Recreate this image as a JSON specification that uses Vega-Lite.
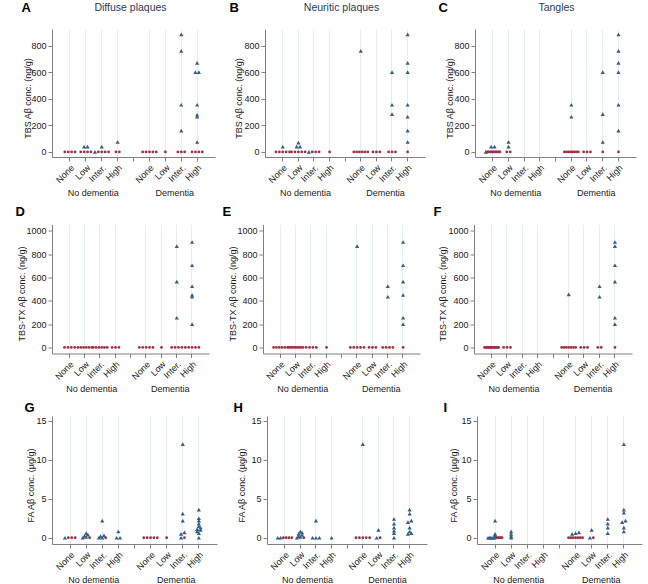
{
"$schema": "https://vega.github.io/schema/vega-lite/v6.json",
"autosize": {"type": "pad"},
"padding": {"left": 15, "top": 1, "right": 5, "bottom": 2},
"background": "white",
"config": {"view": {"stroke": null}, "font": "Liberation Sans",
 "axis": {"domainColor": "#808080", "tickColor": "#808080", "labelColor": "#1a1a1a", "titleColor": "#1a1a1a", "labelFont": "Liberation Sans", "titleFont": "Liberation Sans"}},
"datasets": {
"A": [
{"g":"nd","l":"None","v":0,"k":"c"},{"g":"nd","l":"None","v":0,"k":"c"},{"g":"nd","l":"None","v":0,"k":"c"},{"g":"nd","l":"None","v":0,"k":"c"},
{"g":"nd","l":"Low","v":0,"k":"c"},{"g":"nd","l":"Low","v":0,"k":"c"},{"g":"nd","l":"Low","v":0,"k":"c"},{"g":"nd","l":"Low","v":0,"k":"c"},{"g":"nd","l":"Low","v":40,"k":"t"},{"g":"nd","l":"Low","v":40,"k":"t"},
{"g":"nd","l":"Inter.","v":0,"k":"t"},{"g":"nd","l":"Inter.","v":0,"k":"c"},{"g":"nd","l":"Inter.","v":0,"k":"c"},{"g":"nd","l":"Inter.","v":0,"k":"c"},{"g":"nd","l":"Inter.","v":0,"k":"c"},{"g":"nd","l":"Inter.","v":40,"k":"t"},
{"g":"nd","l":"High","v":0,"k":"c"},{"g":"nd","l":"High","v":0,"k":"c"},{"g":"nd","l":"High","v":75,"k":"t"},
{"g":"d","l":"None","v":0,"k":"c"},{"g":"d","l":"None","v":0,"k":"c"},{"g":"d","l":"None","v":0,"k":"c"},{"g":"d","l":"None","v":0,"k":"c"},{"g":"d","l":"None","v":0,"k":"c"},
{"g":"d","l":"Low","v":0,"k":"c"},
{"g":"d","l":"Inter.","v":0,"k":"c"},{"g":"d","l":"Inter.","v":0,"k":"c"},{"g":"d","l":"Inter.","v":0,"k":"c"},{"g":"d","l":"Inter.","v":160,"k":"t"},{"g":"d","l":"Inter.","v":355,"k":"t"},{"g":"d","l":"Inter.","v":760,"k":"t"},{"g":"d","l":"Inter.","v":885,"k":"t"},
{"g":"d","l":"High","v":0,"k":"c"},{"g":"d","l":"High","v":0,"k":"c"},{"g":"d","l":"High","v":0,"k":"c"},{"g":"d","l":"High","v":0,"k":"c"},{"g":"d","l":"High","v":75,"k":"t"},{"g":"d","l":"High","v":265,"k":"t"},{"g":"d","l":"High","v":280,"k":"t"},{"g":"d","l":"High","v":355,"k":"t"},{"g":"d","l":"High","v":600,"k":"t"},{"g":"d","l":"High","v":600,"k":"t"},{"g":"d","l":"High","v":670,"k":"t"}
],
"B": [
{"g":"nd","l":"None","v":0,"k":"c"},{"g":"nd","l":"None","v":0,"k":"c"},{"g":"nd","l":"None","v":0,"k":"c"},{"g":"nd","l":"None","v":0,"k":"c"},{"g":"nd","l":"None","v":0,"k":"c"},{"g":"nd","l":"None","v":40,"k":"t"},
{"g":"nd","l":"Low","v":0,"k":"c"},{"g":"nd","l":"Low","v":0,"k":"c"},{"g":"nd","l":"Low","v":0,"k":"c"},{"g":"nd","l":"Low","v":0,"k":"c"},{"g":"nd","l":"Low","v":0,"k":"c"},{"g":"nd","l":"Low","v":40,"k":"t"},{"g":"nd","l":"Low","v":40,"k":"t"},{"g":"nd","l":"Low","v":70,"k":"t"},
{"g":"nd","l":"Inter.","v":0,"k":"t"},{"g":"nd","l":"Inter.","v":0,"k":"c"},{"g":"nd","l":"Inter.","v":0,"k":"c"},{"g":"nd","l":"Inter.","v":0,"k":"c"},
{"g":"nd","l":"High","v":0,"k":"c"},
{"g":"d","l":"None","v":0,"k":"c"},{"g":"d","l":"None","v":0,"k":"c"},{"g":"d","l":"None","v":0,"k":"c"},{"g":"d","l":"None","v":0,"k":"c"},{"g":"d","l":"None","v":0,"k":"c"},{"g":"d","l":"None","v":0,"k":"c"},{"g":"d","l":"None","v":760,"k":"t"},
{"g":"d","l":"Low","v":0,"k":"c"},{"g":"d","l":"Low","v":0,"k":"c"},{"g":"d","l":"Low","v":0,"k":"c"},
{"g":"d","l":"Inter.","v":0,"k":"c"},{"g":"d","l":"Inter.","v":0,"k":"c"},{"g":"d","l":"Inter.","v":0,"k":"c"},{"g":"d","l":"Inter.","v":285,"k":"t"},{"g":"d","l":"Inter.","v":355,"k":"t"},{"g":"d","l":"Inter.","v":600,"k":"t"},
{"g":"d","l":"High","v":0,"k":"c"},{"g":"d","l":"High","v":75,"k":"t"},{"g":"d","l":"High","v":160,"k":"t"},{"g":"d","l":"High","v":265,"k":"t"},{"g":"d","l":"High","v":355,"k":"t"},{"g":"d","l":"High","v":600,"k":"t"},{"g":"d","l":"High","v":670,"k":"t"},{"g":"d","l":"High","v":885,"k":"t"}
],
"C": [
{"g":"nd","l":"None","v":0,"k":"t"},{"g":"nd","l":"None","v":0,"k":"c"},{"g":"nd","l":"None","v":0,"k":"c"},{"g":"nd","l":"None","v":0,"k":"c"},{"g":"nd","l":"None","v":0,"k":"c"},{"g":"nd","l":"None","v":0,"k":"c"},{"g":"nd","l":"None","v":0,"k":"c"},{"g":"nd","l":"None","v":0,"k":"c"},{"g":"nd","l":"None","v":0,"k":"c"},{"g":"nd","l":"None","v":0,"k":"c"},{"g":"nd","l":"None","v":0,"k":"c"},{"g":"nd","l":"None","v":0,"k":"c"},{"g":"nd","l":"None","v":0,"k":"c"},{"g":"nd","l":"None","v":40,"k":"t"},{"g":"nd","l":"None","v":40,"k":"t"},
{"g":"nd","l":"Low","v":0,"k":"c"},{"g":"nd","l":"Low","v":0,"k":"c"},{"g":"nd","l":"Low","v":40,"k":"t"},{"g":"nd","l":"Low","v":75,"k":"t"},
{"g":"d","l":"None","v":0,"k":"c"},{"g":"d","l":"None","v":0,"k":"c"},{"g":"d","l":"None","v":0,"k":"c"},{"g":"d","l":"None","v":0,"k":"c"},{"g":"d","l":"None","v":0,"k":"c"},{"g":"d","l":"None","v":0,"k":"c"},{"g":"d","l":"None","v":0,"k":"c"},{"g":"d","l":"None","v":0,"k":"c"},{"g":"d","l":"None","v":265,"k":"t"},{"g":"d","l":"None","v":355,"k":"t"},
{"g":"d","l":"Low","v":0,"k":"c"},{"g":"d","l":"Low","v":0,"k":"c"},{"g":"d","l":"Low","v":0,"k":"c"},
{"g":"d","l":"Inter.","v":0,"k":"c"},{"g":"d","l":"Inter.","v":75,"k":"t"},{"g":"d","l":"Inter.","v":285,"k":"t"},{"g":"d","l":"Inter.","v":600,"k":"t"},
{"g":"d","l":"High","v":0,"k":"c"},{"g":"d","l":"High","v":160,"k":"t"},{"g":"d","l":"High","v":355,"k":"t"},{"g":"d","l":"High","v":600,"k":"t"},{"g":"d","l":"High","v":670,"k":"t"},{"g":"d","l":"High","v":760,"k":"t"},{"g":"d","l":"High","v":885,"k":"t"}
],
"D": [
{"g":"nd","l":"None","v":0,"k":"c"},{"g":"nd","l":"None","v":0,"k":"c"},{"g":"nd","l":"None","v":0,"k":"c"},{"g":"nd","l":"None","v":0,"k":"c"},
{"g":"nd","l":"Low","v":0,"k":"c"},{"g":"nd","l":"Low","v":0,"k":"c"},{"g":"nd","l":"Low","v":0,"k":"c"},{"g":"nd","l":"Low","v":0,"k":"c"},{"g":"nd","l":"Low","v":0,"k":"c"},{"g":"nd","l":"Low","v":0,"k":"c"},
{"g":"nd","l":"Inter.","v":0,"k":"c"},{"g":"nd","l":"Inter.","v":0,"k":"c"},{"g":"nd","l":"Inter.","v":0,"k":"c"},{"g":"nd","l":"Inter.","v":0,"k":"c"},{"g":"nd","l":"Inter.","v":0,"k":"c"},{"g":"nd","l":"Inter.","v":0,"k":"c"},
{"g":"nd","l":"High","v":0,"k":"c"},{"g":"nd","l":"High","v":0,"k":"c"},{"g":"nd","l":"High","v":0,"k":"c"},
{"g":"d","l":"None","v":0,"k":"c"},{"g":"d","l":"None","v":0,"k":"c"},{"g":"d","l":"None","v":0,"k":"c"},{"g":"d","l":"None","v":0,"k":"c"},{"g":"d","l":"None","v":0,"k":"c"},
{"g":"d","l":"Low","v":0,"k":"c"},
{"g":"d","l":"Inter.","v":0,"k":"c"},{"g":"d","l":"Inter.","v":0,"k":"c"},{"g":"d","l":"Inter.","v":0,"k":"c"},{"g":"d","l":"Inter.","v":0,"k":"c"},{"g":"d","l":"Inter.","v":255,"k":"t"},{"g":"d","l":"Inter.","v":565,"k":"t"},{"g":"d","l":"Inter.","v":870,"k":"t"},
{"g":"d","l":"High","v":0,"k":"c"},{"g":"d","l":"High","v":0,"k":"c"},{"g":"d","l":"High","v":0,"k":"c"},{"g":"d","l":"High","v":0,"k":"c"},{"g":"d","l":"High","v":0,"k":"c"},{"g":"d","l":"High","v":200,"k":"t"},{"g":"d","l":"High","v":435,"k":"t"},{"g":"d","l":"High","v":450,"k":"t"},{"g":"d","l":"High","v":525,"k":"t"},{"g":"d","l":"High","v":705,"k":"t"},{"g":"d","l":"High","v":905,"k":"t"}
],
"E": [
{"g":"nd","l":"None","v":0,"k":"c"},{"g":"nd","l":"None","v":0,"k":"c"},{"g":"nd","l":"None","v":0,"k":"c"},{"g":"nd","l":"None","v":0,"k":"c"},{"g":"nd","l":"None","v":0,"k":"c"},{"g":"nd","l":"None","v":0,"k":"c"},
{"g":"nd","l":"Low","v":0,"k":"c"},{"g":"nd","l":"Low","v":0,"k":"c"},{"g":"nd","l":"Low","v":0,"k":"c"},{"g":"nd","l":"Low","v":0,"k":"c"},{"g":"nd","l":"Low","v":0,"k":"c"},{"g":"nd","l":"Low","v":0,"k":"c"},{"g":"nd","l":"Low","v":0,"k":"c"},{"g":"nd","l":"Low","v":0,"k":"c"},
{"g":"nd","l":"Inter.","v":0,"k":"c"},{"g":"nd","l":"Inter.","v":0,"k":"c"},{"g":"nd","l":"Inter.","v":0,"k":"c"},{"g":"nd","l":"Inter.","v":0,"k":"c"},
{"g":"nd","l":"High","v":0,"k":"c"},
{"g":"d","l":"None","v":0,"k":"c"},{"g":"d","l":"None","v":0,"k":"c"},{"g":"d","l":"None","v":0,"k":"c"},{"g":"d","l":"None","v":0,"k":"c"},{"g":"d","l":"None","v":0,"k":"c"},{"g":"d","l":"None","v":870,"k":"t"},
{"g":"d","l":"Low","v":0,"k":"c"},{"g":"d","l":"Low","v":0,"k":"c"},{"g":"d","l":"Low","v":0,"k":"c"},
{"g":"d","l":"Inter.","v":0,"k":"c"},{"g":"d","l":"Inter.","v":0,"k":"c"},{"g":"d","l":"Inter.","v":0,"k":"c"},{"g":"d","l":"Inter.","v":0,"k":"c"},{"g":"d","l":"Inter.","v":435,"k":"t"},{"g":"d","l":"Inter.","v":525,"k":"t"},
{"g":"d","l":"High","v":0,"k":"c"},{"g":"d","l":"High","v":200,"k":"t"},{"g":"d","l":"High","v":255,"k":"t"},{"g":"d","l":"High","v":450,"k":"t"},{"g":"d","l":"High","v":565,"k":"t"},{"g":"d","l":"High","v":705,"k":"t"},{"g":"d","l":"High","v":905,"k":"t"}
],
"F": [
{"g":"nd","l":"None","v":0,"k":"c"},{"g":"nd","l":"None","v":0,"k":"c"},{"g":"nd","l":"None","v":0,"k":"c"},{"g":"nd","l":"None","v":0,"k":"c"},{"g":"nd","l":"None","v":0,"k":"c"},{"g":"nd","l":"None","v":0,"k":"c"},{"g":"nd","l":"None","v":0,"k":"c"},{"g":"nd","l":"None","v":0,"k":"c"},{"g":"nd","l":"None","v":0,"k":"c"},{"g":"nd","l":"None","v":0,"k":"c"},{"g":"nd","l":"None","v":0,"k":"c"},{"g":"nd","l":"None","v":0,"k":"c"},{"g":"nd","l":"None","v":0,"k":"c"},{"g":"nd","l":"None","v":0,"k":"c"},{"g":"nd","l":"None","v":0,"k":"c"},
{"g":"nd","l":"Low","v":0,"k":"c"},{"g":"nd","l":"Low","v":0,"k":"c"},{"g":"nd","l":"Low","v":0,"k":"c"},
{"g":"d","l":"None","v":0,"k":"c"},{"g":"d","l":"None","v":0,"k":"c"},{"g":"d","l":"None","v":0,"k":"c"},{"g":"d","l":"None","v":0,"k":"c"},{"g":"d","l":"None","v":0,"k":"c"},{"g":"d","l":"None","v":0,"k":"c"},{"g":"d","l":"None","v":0,"k":"c"},{"g":"d","l":"None","v":455,"k":"t"},
{"g":"d","l":"Low","v":0,"k":"c"},{"g":"d","l":"Low","v":0,"k":"c"},{"g":"d","l":"Low","v":0,"k":"c"},
{"g":"d","l":"Inter.","v":0,"k":"c"},{"g":"d","l":"Inter.","v":0,"k":"c"},{"g":"d","l":"Inter.","v":435,"k":"t"},{"g":"d","l":"Inter.","v":525,"k":"t"},
{"g":"d","l":"High","v":0,"k":"c"},{"g":"d","l":"High","v":200,"k":"t"},{"g":"d","l":"High","v":255,"k":"t"},{"g":"d","l":"High","v":565,"k":"t"},{"g":"d","l":"High","v":705,"k":"t"},{"g":"d","l":"High","v":870,"k":"t"},{"g":"d","l":"High","v":905,"k":"t"}
],
"G": [
{"g":"nd","l":"None","v":0,"k":"t"},{"g":"nd","l":"None","v":0,"k":"c"},{"g":"nd","l":"None","v":0,"k":"c"},{"g":"nd","l":"None","v":0,"k":"c"},
{"g":"nd","l":"Low","v":0,"k":"t"},{"g":"nd","l":"Low","v":0.1,"k":"t"},{"g":"nd","l":"Low","v":0.25,"k":"t"},{"g":"nd","l":"Low","v":0.4,"k":"t"},{"g":"nd","l":"Low","v":0.6,"k":"t"},{"g":"nd","l":"Low","v":0,"k":"c"},
{"g":"nd","l":"Inter.","v":0,"k":"t"},{"g":"nd","l":"Inter.","v":0,"k":"t"},{"g":"nd","l":"Inter.","v":0.2,"k":"t"},{"g":"nd","l":"Inter.","v":0.3,"k":"t"},{"g":"nd","l":"Inter.","v":2.2,"k":"t"},{"g":"nd","l":"Inter.","v":0,"k":"c"},
{"g":"nd","l":"High","v":0,"k":"t"},{"g":"nd","l":"High","v":0,"k":"t"},{"g":"nd","l":"High","v":0.8,"k":"t"},
{"g":"d","l":"None","v":0,"k":"c"},{"g":"d","l":"None","v":0,"k":"c"},{"g":"d","l":"None","v":0,"k":"c"},{"g":"d","l":"None","v":0,"k":"c"},{"g":"d","l":"None","v":0,"k":"c"},
{"g":"d","l":"Low","v":0,"k":"c"},
{"g":"d","l":"Inter.","v":12,"k":"t"},{"g":"d","l":"Inter.","v":3.1,"k":"t"},{"g":"d","l":"Inter.","v":2.2,"k":"t"},{"g":"d","l":"Inter.","v":0.7,"k":"t"},{"g":"d","l":"Inter.","v":0.5,"k":"t"},{"g":"d","l":"Inter.","v":0,"k":"t"},{"g":"d","l":"Inter.","v":0,"k":"c"},
{"g":"d","l":"High","v":3.6,"k":"t"},{"g":"d","l":"High","v":2.5,"k":"t"},{"g":"d","l":"High","v":2.2,"k":"t"},{"g":"d","l":"High","v":1.8,"k":"t"},{"g":"d","l":"High","v":1.5,"k":"t"},{"g":"d","l":"High","v":1.3,"k":"t"},{"g":"d","l":"High","v":1.1,"k":"t"},{"g":"d","l":"High","v":1.0,"k":"t"},{"g":"d","l":"High","v":0.8,"k":"t"},{"g":"d","l":"High","v":0.6,"k":"t"},{"g":"d","l":"High","v":0,"k":"t"}
],
"H": [
{"g":"nd","l":"None","v":0,"k":"t"},{"g":"nd","l":"None","v":0,"k":"t"},{"g":"nd","l":"None","v":0,"k":"c"},{"g":"nd","l":"None","v":0,"k":"c"},{"g":"nd","l":"None","v":0,"k":"c"},{"g":"nd","l":"None","v":0,"k":"c"},
{"g":"nd","l":"Low","v":0,"k":"t"},{"g":"nd","l":"Low","v":0.1,"k":"t"},{"g":"nd","l":"Low","v":0.2,"k":"t"},{"g":"nd","l":"Low","v":0.35,"k":"t"},{"g":"nd","l":"Low","v":0.5,"k":"t"},{"g":"nd","l":"Low","v":0.65,"k":"t"},{"g":"nd","l":"Low","v":0.8,"k":"t"},{"g":"nd","l":"Low","v":0,"k":"c"},
{"g":"nd","l":"Inter.","v":0,"k":"t"},{"g":"nd","l":"Inter.","v":0,"k":"t"},{"g":"nd","l":"Inter.","v":0,"k":"t"},{"g":"nd","l":"Inter.","v":2.2,"k":"t"},
{"g":"nd","l":"High","v":0,"k":"t"},
{"g":"d","l":"None","v":0,"k":"c"},{"g":"d","l":"None","v":0,"k":"c"},{"g":"d","l":"None","v":0,"k":"c"},{"g":"d","l":"None","v":0,"k":"c"},{"g":"d","l":"None","v":0,"k":"c"},{"g":"d","l":"None","v":12,"k":"t"},
{"g":"d","l":"Low","v":1.0,"k":"t"},{"g":"d","l":"Low","v":0,"k":"t"},{"g":"d","l":"Low","v":0,"k":"c"},
{"g":"d","l":"Inter.","v":2.4,"k":"t"},{"g":"d","l":"Inter.","v":1.8,"k":"t"},{"g":"d","l":"Inter.","v":1.3,"k":"t"},{"g":"d","l":"Inter.","v":0.9,"k":"t"},{"g":"d","l":"Inter.","v":0.6,"k":"t"},{"g":"d","l":"Inter.","v":0,"k":"t"},
{"g":"d","l":"High","v":3.6,"k":"t"},{"g":"d","l":"High","v":3.1,"k":"t"},{"g":"d","l":"High","v":2.2,"k":"t"},{"g":"d","l":"High","v":2.0,"k":"t"},{"g":"d","l":"High","v":1.3,"k":"t"},{"g":"d","l":"High","v":0.8,"k":"t"},{"g":"d","l":"High","v":0.6,"k":"t"},{"g":"d","l":"High","v":0.5,"k":"t"}
],
"I": [
{"g":"nd","l":"None","v":0,"k":"t"},{"g":"nd","l":"None","v":0,"k":"t"},{"g":"nd","l":"None","v":0,"k":"t"},{"g":"nd","l":"None","v":0,"k":"t"},{"g":"nd","l":"None","v":0,"k":"t"},{"g":"nd","l":"None","v":0,"k":"t"},{"g":"nd","l":"None","v":0.1,"k":"t"},{"g":"nd","l":"None","v":0.3,"k":"t"},{"g":"nd","l":"None","v":0.5,"k":"t"},{"g":"nd","l":"None","v":2.2,"k":"t"},{"g":"nd","l":"None","v":0,"k":"c"},{"g":"nd","l":"None","v":0,"k":"c"},{"g":"nd","l":"None","v":0,"k":"c"},{"g":"nd","l":"None","v":0,"k":"c"},{"g":"nd","l":"None","v":0,"k":"c"},
{"g":"nd","l":"Low","v":0.8,"k":"t"},{"g":"nd","l":"Low","v":0.5,"k":"t"},{"g":"nd","l":"Low","v":0.2,"k":"t"},{"g":"nd","l":"Low","v":0,"k":"t"},
{"g":"d","l":"None","v":0.7,"k":"t"},{"g":"d","l":"None","v":0.6,"k":"t"},{"g":"d","l":"None","v":0.5,"k":"t"},{"g":"d","l":"None","v":0,"k":"c"},{"g":"d","l":"None","v":0,"k":"c"},{"g":"d","l":"None","v":0,"k":"c"},{"g":"d","l":"None","v":0,"k":"c"},{"g":"d","l":"None","v":0,"k":"c"},{"g":"d","l":"None","v":0,"k":"c"},{"g":"d","l":"None","v":0,"k":"c"},
{"g":"d","l":"Low","v":1.0,"k":"t"},{"g":"d","l":"Low","v":0,"k":"t"},{"g":"d","l":"Low","v":0,"k":"c"},
{"g":"d","l":"Inter.","v":2.4,"k":"t"},{"g":"d","l":"Inter.","v":1.8,"k":"t"},{"g":"d","l":"Inter.","v":1.3,"k":"t"},{"g":"d","l":"Inter.","v":0.6,"k":"t"},
{"g":"d","l":"High","v":12,"k":"t"},{"g":"d","l":"High","v":3.6,"k":"t"},{"g":"d","l":"High","v":3.2,"k":"t"},{"g":"d","l":"High","v":2.2,"k":"t"},{"g":"d","l":"High","v":2.0,"k":"t"},{"g":"d","l":"High","v":1.3,"k":"t"},{"g":"d","l":"High","v":0.8,"k":"t"}
]
},
"bounds": "full",
"spacing": 7.5,
"vconcat": [
{"bounds": "flush", "spacing": 50, "hconcat": [
{"width": 163, "height": 128, "data": {"name": "A"},
 "transform": [{"calculate": "datum.g + '_' + datum.l", "as": "slot"}, {"calculate": "round(datum.v / 20)", "as": "vb"},
  {"window": [{"op": "row_number", "as": "rk"}, {"op": "count", "as": "n"}], "groupby": ["slot", "vb"], "sort": [{"field": "k", "order": "descending"}, {"field": "v", "order": "ascending"}], "frame": [null, null]},
  {"calculate": "(datum.rk - (datum.n + 1) / 2) * min(3.4, 14 / max(datum.n - 1, 1))", "as": "off"}],
 "layer": [
  {"mark": {"type": "point", "filled": true, "opacity": 1},
   "encoding": {
    "x": {"field": "slot", "type": "nominal", "scale": {"type": "band", "domain": ["nd_None","nd_Low","nd_Inter.","nd_High","gap","d_None","d_Low","d_Inter.","d_High"], "paddingInner": 0, "paddingOuter": 0.625},
     "axis": {"labelExpr": "datum.value == 'gap' ? '' : split(datum.value, '_')[1]", "labelAngle": -45, "labelFontSize": 9, "labelPadding": 2, "grid": true, "gridColor": {"condition": {"test": "datum.value == 'gap'", "value": "transparent"}, "value": "#e5ecf2"}, "bandPosition": 0.5, "tickSize": 4,
      "title": "Diffuse plaques", "titleX": 78, "titleY": -149.5, "titleFontSize": 10.5, "titleFontWeight": "normal", "titleColor": "#1f3b5b", "titleAlign": "center", "titleBaseline": "middle", "titleAngle": 0}},
    "xOffset": {"field": "off", "type": "quantitative", "scale": {"domain": [-8, 8], "range": [0, 16]}},
    "y": {"field": "v", "type": "quantitative", "scale": {"domain": [-38, 925], "nice": false, "zero": false},
     "axis": {"values": [0, 200, 400, 600, 800], "format": "d", "title": "TBS  Aβ  conc. (ng/g)", "titleX": -24.5, "titleY": 69, "titleAngle": -90, "titleAlign": "center", "titleBaseline": "middle", "titleFontSize": 9, "titleFontWeight": "normal", "labelFontSize": 9, "tickSize": 4, "labelPadding": 2, "grid": false}},
    "shape": {"field": "k", "type": "nominal", "scale": {"domain": ["t", "c"], "range": ["triangle-up", "circle"]}, "legend": null},
    "color": {"field": "k", "type": "nominal", "scale": {"domain": ["t", "c"], "range": ["#345f86", "#9c3446"]}, "legend": null},
    "size": {"field": "k", "type": "ordinal", "scale": {"domain": ["t", "c"], "range": [18, 8]}, "legend": null}}},
  {"mark": {"type": "point", "opacity": 0},
   "encoding": {"x": {"field": "g", "type": "nominal", "scale": {"type": "point", "domain": ["nd", "d"], "padding": 0.5},
    "axis": {"orient": "bottom", "labelExpr": "datum.value == 'nd' ? 'No dementia' : 'Dementia'", "labelAngle": 0, "labelBaseline": "middle", "labelPadding": 35, "labelFontSize": 9, "domain": false, "ticks": false, "grid": false,
     "title": "A", "titleX": -31, "titleY": -149.5, "titleAlign": "left", "titleBaseline": "middle", "titleFontSize": 13, "titleFontWeight": "bold", "titleColor": "#000000", "titleAngle": 0}}}}
 ],
 "resolve": {"scale": {"x": "independent"}, "axis": {"x": "independent"}}},
{"width": 160, "height": 128, "data": {"name": "B"},
 "transform": [{"calculate": "datum.g + '_' + datum.l", "as": "slot"}, {"calculate": "round(datum.v / 20)", "as": "vb"},
  {"window": [{"op": "row_number", "as": "rk"}, {"op": "count", "as": "n"}], "groupby": ["slot", "vb"], "sort": [{"field": "k", "order": "descending"}, {"field": "v", "order": "ascending"}], "frame": [null, null]},
  {"calculate": "(datum.rk - (datum.n + 1) / 2) * min(3.4, 14 / max(datum.n - 1, 1))", "as": "off"}],
 "layer": [
  {"mark": {"type": "point", "filled": true, "opacity": 1},
   "encoding": {
    "x": {"field": "slot", "type": "nominal", "scale": {"type": "band", "domain": ["nd_None","nd_Low","nd_Inter.","nd_High","gap","d_None","d_Low","d_Inter.","d_High"], "paddingInner": 0, "paddingOuter": 0.625},
     "axis": {"labelExpr": "datum.value == 'gap' ? '' : split(datum.value, '_')[1]", "labelAngle": -45, "labelFontSize": 9, "labelPadding": 2, "grid": true, "gridColor": {"condition": {"test": "datum.value == 'gap'", "value": "transparent"}, "value": "#e5ecf2"}, "bandPosition": 0.5, "tickSize": 4,
      "title": "Neuritic plaques", "titleX": 76, "titleY": -149.5, "titleFontSize": 10.5, "titleFontWeight": "normal", "titleColor": "#1f3b5b", "titleAlign": "center", "titleBaseline": "middle", "titleAngle": 0}},
    "xOffset": {"field": "off", "type": "quantitative", "scale": {"domain": [-8, 8], "range": [0, 16]}},
    "y": {"field": "v", "type": "quantitative", "scale": {"domain": [-38, 925], "nice": false, "zero": false},
     "axis": {"values": [0, 200, 400, 600, 800], "format": "d", "title": "TBS  Aβ  conc. (ng/g)", "titleX": -27, "titleY": 69, "titleAngle": -90, "titleAlign": "center", "titleBaseline": "middle", "titleFontSize": 9, "titleFontWeight": "normal", "labelFontSize": 9, "tickSize": 4, "labelPadding": 2, "grid": false}},
    "shape": {"field": "k", "type": "nominal", "scale": {"domain": ["t", "c"], "range": ["triangle-up", "circle"]}, "legend": null},
    "color": {"field": "k", "type": "nominal", "scale": {"domain": ["t", "c"], "range": ["#345f86", "#9c3446"]}, "legend": null},
    "size": {"field": "k", "type": "ordinal", "scale": {"domain": ["t", "c"], "range": [18, 8]}, "legend": null}}},
  {"mark": {"type": "point", "opacity": 0},
   "encoding": {"x": {"field": "g", "type": "nominal", "scale": {"type": "point", "domain": ["nd", "d"], "padding": 0.5},
    "axis": {"orient": "bottom", "labelExpr": "datum.value == 'nd' ? 'No dementia' : 'Dementia'", "labelAngle": 0, "labelBaseline": "middle", "labelPadding": 35, "labelFontSize": 9, "domain": false, "ticks": false, "grid": false,
     "title": "B", "titleX": -36, "titleY": -149.5, "titleAlign": "left", "titleBaseline": "middle", "titleFontSize": 13, "titleFontWeight": "bold", "titleColor": "#000000", "titleAngle": 0}}}}
 ],
 "resolve": {"scale": {"x": "independent"}, "axis": {"x": "independent"}}},
{"width": 161, "height": 128, "data": {"name": "C"},
 "transform": [{"calculate": "datum.g + '_' + datum.l", "as": "slot"}, {"calculate": "round(datum.v / 20)", "as": "vb"},
  {"window": [{"op": "row_number", "as": "rk"}, {"op": "count", "as": "n"}], "groupby": ["slot", "vb"], "sort": [{"field": "k", "order": "descending"}, {"field": "v", "order": "ascending"}], "frame": [null, null]},
  {"calculate": "(datum.rk - (datum.n + 1) / 2) * min(3.4, 14 / max(datum.n - 1, 1))", "as": "off"}],
 "layer": [
  {"mark": {"type": "point", "filled": true, "opacity": 1},
   "encoding": {
    "x": {"field": "slot", "type": "nominal", "scale": {"type": "band", "domain": ["nd_None","nd_Low","nd_Inter.","nd_High","gap","d_None","d_Low","d_Inter.","d_High"], "paddingInner": 0, "paddingOuter": 0.625},
     "axis": {"labelExpr": "datum.value == 'gap' ? '' : split(datum.value, '_')[1]", "labelAngle": -45, "labelFontSize": 9, "labelPadding": 2, "grid": true, "gridColor": {"condition": {"test": "datum.value == 'gap'", "value": "transparent"}, "value": "#e5ecf2"}, "bandPosition": 0.5, "tickSize": 4,
      "title": "Tangles", "titleX": 81, "titleY": -149.5, "titleFontSize": 10.5, "titleFontWeight": "normal", "titleColor": "#1f3b5b", "titleAlign": "center", "titleBaseline": "middle", "titleAngle": 0}},
    "xOffset": {"field": "off", "type": "quantitative", "scale": {"domain": [-8, 8], "range": [0, 16]}},
    "y": {"field": "v", "type": "quantitative", "scale": {"domain": [-38, 925], "nice": false, "zero": false},
     "axis": {"values": [0, 200, 400, 600, 800], "format": "d", "title": "TBS  Aβ  conc. (ng/g)", "titleX": -26, "titleY": 69, "titleAngle": -90, "titleAlign": "center", "titleBaseline": "middle", "titleFontSize": 9, "titleFontWeight": "normal", "labelFontSize": 9, "tickSize": 4, "labelPadding": 2, "grid": false}},
    "shape": {"field": "k", "type": "nominal", "scale": {"domain": ["t", "c"], "range": ["triangle-up", "circle"]}, "legend": null},
    "color": {"field": "k", "type": "nominal", "scale": {"domain": ["t", "c"], "range": ["#345f86", "#9c3446"]}, "legend": null},
    "size": {"field": "k", "type": "ordinal", "scale": {"domain": ["t", "c"], "range": [18, 8]}, "legend": null}}},
  {"mark": {"type": "point", "opacity": 0},
   "encoding": {"x": {"field": "g", "type": "nominal", "scale": {"type": "point", "domain": ["nd", "d"], "padding": 0.5},
    "axis": {"orient": "bottom", "labelExpr": "datum.value == 'nd' ? 'No dementia' : 'Dementia'", "labelAngle": 0, "labelBaseline": "middle", "labelPadding": 35, "labelFontSize": 9, "domain": false, "ticks": false, "grid": false,
     "title": "C", "titleX": -37, "titleY": -149.5, "titleAlign": "left", "titleBaseline": "middle", "titleFontSize": 13, "titleFontWeight": "bold", "titleColor": "#000000", "titleAngle": 0}}}}
 ],
 "resolve": {"scale": {"x": "independent"}, "axis": {"x": "independent"}}}
]},
{"bounds": "flush", "spacing": 54, "hconcat": [
{"width": 157, "height": 129, "data": {"name": "D"},
 "transform": [{"calculate": "datum.g + '_' + datum.l", "as": "slot"}, {"calculate": "round(datum.v / 20)", "as": "vb"},
  {"window": [{"op": "row_number", "as": "rk"}, {"op": "count", "as": "n"}], "groupby": ["slot", "vb"], "sort": [{"field": "k", "order": "descending"}, {"field": "v", "order": "ascending"}], "frame": [null, null]},
  {"calculate": "(datum.rk - (datum.n + 1) / 2) * min(3.4, 14 / max(datum.n - 1, 1))", "as": "off"}],
 "layer": [
  {"mark": {"type": "point", "filled": true, "opacity": 1},
   "encoding": {
    "x": {"field": "slot", "type": "nominal", "scale": {"type": "band", "domain": ["nd_None","nd_Low","nd_Inter.","nd_High","gap","d_None","d_Low","d_Inter.","d_High"], "paddingInner": 0, "paddingOuter": 0.625},
     "axis": {"labelExpr": "datum.value == 'gap' ? '' : split(datum.value, '_')[1]", "labelAngle": -45, "labelFontSize": 9, "labelPadding": 2, "grid": true, "gridColor": {"condition": {"test": "datum.value == 'gap'", "value": "transparent"}, "value": "#e5ecf2"}, "bandPosition": 0.5, "tickSize": 4, "title": null}},
    "xOffset": {"field": "off", "type": "quantitative", "scale": {"domain": [-8, 8], "range": [0, 16]}},
    "y": {"field": "v", "type": "quantitative", "scale": {"domain": [-52, 1055], "nice": false, "zero": false},
     "axis": {"values": [0, 200, 400, 600, 800, 1000], "format": "d", "title": "TBS-TX  Aβ  conc. (ng/g)", "titleX": -30.5, "titleY": 69, "titleAngle": -90, "titleAlign": "center", "titleBaseline": "middle", "titleFontSize": 9, "titleFontWeight": "normal", "labelFontSize": 9, "tickSize": 4, "labelPadding": 2, "grid": false}},
    "shape": {"field": "k", "type": "nominal", "scale": {"domain": ["t", "c"], "range": ["triangle-up", "circle"]}, "legend": null},
    "color": {"field": "k", "type": "nominal", "scale": {"domain": ["t", "c"], "range": ["#345f86", "#9c3446"]}, "legend": null},
    "size": {"field": "k", "type": "ordinal", "scale": {"domain": ["t", "c"], "range": [18, 8]}, "legend": null}}},
  {"mark": {"type": "point", "opacity": 0},
   "encoding": {"x": {"field": "g", "type": "nominal", "scale": {"type": "point", "domain": ["nd", "d"], "padding": 0.5},
    "axis": {"orient": "bottom", "labelExpr": "datum.value == 'nd' ? 'No dementia' : 'Dementia'", "labelAngle": 0, "labelBaseline": "middle", "labelPadding": 35, "labelFontSize": 9, "domain": false, "ticks": false, "grid": false,
     "title": "D", "titleX": -37, "titleY": -142.5, "titleAlign": "left", "titleBaseline": "middle", "titleFontSize": 13, "titleFontWeight": "bold", "titleColor": "#000000", "titleAngle": 0}}}}
 ],
 "resolve": {"scale": {"x": "independent"}, "axis": {"x": "independent"}}},
{"width": 157, "height": 129, "data": {"name": "E"},
 "transform": [{"calculate": "datum.g + '_' + datum.l", "as": "slot"}, {"calculate": "round(datum.v / 20)", "as": "vb"},
  {"window": [{"op": "row_number", "as": "rk"}, {"op": "count", "as": "n"}], "groupby": ["slot", "vb"], "sort": [{"field": "k", "order": "descending"}, {"field": "v", "order": "ascending"}], "frame": [null, null]},
  {"calculate": "(datum.rk - (datum.n + 1) / 2) * min(3.4, 14 / max(datum.n - 1, 1))", "as": "off"}],
 "layer": [
  {"mark": {"type": "point", "filled": true, "opacity": 1},
   "encoding": {
    "x": {"field": "slot", "type": "nominal", "scale": {"type": "band", "domain": ["nd_None","nd_Low","nd_Inter.","nd_High","gap","d_None","d_Low","d_Inter.","d_High"], "paddingInner": 0, "paddingOuter": 0.625},
     "axis": {"labelExpr": "datum.value == 'gap' ? '' : split(datum.value, '_')[1]", "labelAngle": -45, "labelFontSize": 9, "labelPadding": 2, "grid": true, "gridColor": {"condition": {"test": "datum.value == 'gap'", "value": "transparent"}, "value": "#e5ecf2"}, "bandPosition": 0.5, "tickSize": 4, "title": null}},
    "xOffset": {"field": "off", "type": "quantitative", "scale": {"domain": [-8, 8], "range": [0, 16]}},
    "y": {"field": "v", "type": "quantitative", "scale": {"domain": [-52, 1055], "nice": false, "zero": false},
     "axis": {"values": [0, 200, 400, 600, 800, 1000], "format": "d", "title": "TBS-TX  Aβ  conc. (ng/g)", "titleX": -31, "titleY": 69, "titleAngle": -90, "titleAlign": "center", "titleBaseline": "middle", "titleFontSize": 9, "titleFontWeight": "normal", "labelFontSize": 9, "tickSize": 4, "labelPadding": 2, "grid": false}},
    "shape": {"field": "k", "type": "nominal", "scale": {"domain": ["t", "c"], "range": ["triangle-up", "circle"]}, "legend": null},
    "color": {"field": "k", "type": "nominal", "scale": {"domain": ["t", "c"], "range": ["#345f86", "#9c3446"]}, "legend": null},
    "size": {"field": "k", "type": "ordinal", "scale": {"domain": ["t", "c"], "range": [18, 8]}, "legend": null}}},
  {"mark": {"type": "point", "opacity": 0},
   "encoding": {"x": {"field": "g", "type": "nominal", "scale": {"type": "point", "domain": ["nd", "d"], "padding": 0.5},
    "axis": {"orient": "bottom", "labelExpr": "datum.value == 'nd' ? 'No dementia' : 'Dementia'", "labelAngle": 0, "labelBaseline": "middle", "labelPadding": 35, "labelFontSize": 9, "domain": false, "ticks": false, "grid": false,
     "title": "E", "titleX": -41, "titleY": -142.5, "titleAlign": "left", "titleBaseline": "middle", "titleFontSize": 13, "titleFontWeight": "bold", "titleColor": "#000000", "titleAngle": 0}}}}
 ],
 "resolve": {"scale": {"x": "independent"}, "axis": {"x": "independent"}}},
{"width": 158, "height": 129, "data": {"name": "F"},
 "transform": [{"calculate": "datum.g + '_' + datum.l", "as": "slot"}, {"calculate": "round(datum.v / 20)", "as": "vb"},
  {"window": [{"op": "row_number", "as": "rk"}, {"op": "count", "as": "n"}], "groupby": ["slot", "vb"], "sort": [{"field": "k", "order": "descending"}, {"field": "v", "order": "ascending"}], "frame": [null, null]},
  {"calculate": "(datum.rk - (datum.n + 1) / 2) * min(3.4, 14 / max(datum.n - 1, 1))", "as": "off"}],
 "layer": [
  {"mark": {"type": "point", "filled": true, "opacity": 1},
   "encoding": {
    "x": {"field": "slot", "type": "nominal", "scale": {"type": "band", "domain": ["nd_None","nd_Low","nd_Inter.","nd_High","gap","d_None","d_Low","d_Inter.","d_High"], "paddingInner": 0, "paddingOuter": 0.625},
     "axis": {"labelExpr": "datum.value == 'gap' ? '' : split(datum.value, '_')[1]", "labelAngle": -45, "labelFontSize": 9, "labelPadding": 2, "grid": true, "gridColor": {"condition": {"test": "datum.value == 'gap'", "value": "transparent"}, "value": "#e5ecf2"}, "bandPosition": 0.5, "tickSize": 4, "title": null}},
    "xOffset": {"field": "off", "type": "quantitative", "scale": {"domain": [-8, 8], "range": [0, 16]}},
    "y": {"field": "v", "type": "quantitative", "scale": {"domain": [-52, 1055], "nice": false, "zero": false},
     "axis": {"values": [0, 200, 400, 600, 800, 1000], "format": "d", "title": "TBS-TX  Aβ  conc. (ng/g)", "titleX": -32, "titleY": 69, "titleAngle": -90, "titleAlign": "center", "titleBaseline": "middle", "titleFontSize": 9, "titleFontWeight": "normal", "labelFontSize": 9, "tickSize": 4, "labelPadding": 2, "grid": false}},
    "shape": {"field": "k", "type": "nominal", "scale": {"domain": ["t", "c"], "range": ["triangle-up", "circle"]}, "legend": null},
    "color": {"field": "k", "type": "nominal", "scale": {"domain": ["t", "c"], "range": ["#345f86", "#9c3446"]}, "legend": null},
    "size": {"field": "k", "type": "ordinal", "scale": {"domain": ["t", "c"], "range": [18, 8]}, "legend": null}}},
  {"mark": {"type": "point", "opacity": 0},
   "encoding": {"x": {"field": "g", "type": "nominal", "scale": {"type": "point", "domain": ["nd", "d"], "padding": 0.5},
    "axis": {"orient": "bottom", "labelExpr": "datum.value == 'nd' ? 'No dementia' : 'Dementia'", "labelAngle": 0, "labelBaseline": "middle", "labelPadding": 35, "labelFontSize": 9, "domain": false, "ticks": false, "grid": false,
     "title": "F", "titleX": -41, "titleY": -142.5, "titleAlign": "left", "titleBaseline": "middle", "titleFontSize": 13, "titleFontWeight": "bold", "titleColor": "#000000", "titleAngle": 0}}}}
 ],
 "resolve": {"scale": {"x": "independent"}, "axis": {"x": "independent"}}}
]},
{"bounds": "flush", "spacing": 50, "hconcat": [
{"width": 165, "height": 128, "data": {"name": "G"},
 "transform": [{"calculate": "datum.g + '_' + datum.l", "as": "slot"}, {"calculate": "round(datum.v / 0.3)", "as": "vb"},
  {"window": [{"op": "row_number", "as": "rk"}, {"op": "count", "as": "n"}], "groupby": ["slot", "vb"], "sort": [{"field": "k", "order": "descending"}, {"field": "v", "order": "ascending"}], "frame": [null, null]},
  {"calculate": "(datum.rk - (datum.n + 1) / 2) * min(3.4, 14 / max(datum.n - 1, 1))", "as": "off"}],
 "layer": [
  {"mark": {"type": "point", "filled": true, "opacity": 1},
   "encoding": {
    "x": {"field": "slot", "type": "nominal", "scale": {"type": "band", "domain": ["nd_None","nd_Low","nd_Inter.","nd_High","gap","d_None","d_Low","d_Inter.","d_High"], "paddingInner": 0, "paddingOuter": 0.625},
     "axis": {"labelExpr": "datum.value == 'gap' ? '' : split(datum.value, '_')[1]", "labelAngle": -45, "labelFontSize": 9, "labelPadding": 2, "grid": true, "gridColor": {"condition": {"test": "datum.value == 'gap'", "value": "transparent"}, "value": "#e5ecf2"}, "bandPosition": 0.5, "tickSize": 4, "title": null}},
    "xOffset": {"field": "off", "type": "quantitative", "scale": {"domain": [-8, 8], "range": [0, 16]}},
    "y": {"field": "v", "type": "quantitative", "scale": {"domain": [-0.8, 15.6], "nice": false, "zero": false},
     "axis": {"values": [0, 5, 10, 15], "format": "d", "title": "FA  Aβ  conc. (µg/g)", "titleX": -22, "titleY": 69, "titleAngle": -90, "titleAlign": "center", "titleBaseline": "middle", "titleFontSize": 9, "titleFontWeight": "normal", "labelFontSize": 9, "tickSize": 4, "labelPadding": 2, "grid": false}},
    "shape": {"field": "k", "type": "nominal", "scale": {"domain": ["t", "c"], "range": ["triangle-up", "circle"]}, "legend": null},
    "color": {"field": "k", "type": "nominal", "scale": {"domain": ["t", "c"], "range": ["#345f86", "#9c3446"]}, "legend": null},
    "size": {"field": "k", "type": "ordinal", "scale": {"domain": ["t", "c"], "range": [18, 8]}, "legend": null}}},
  {"mark": {"type": "point", "opacity": 0},
   "encoding": {"x": {"field": "g", "type": "nominal", "scale": {"type": "point", "domain": ["nd", "d"], "padding": 0.5},
    "axis": {"orient": "bottom", "labelExpr": "datum.value == 'nd' ? 'No dementia' : 'Dementia'", "labelAngle": 0, "labelBaseline": "middle", "labelPadding": 35, "labelFontSize": 9, "domain": false, "ticks": false, "grid": false,
     "title": "G", "titleX": -28, "titleY": -137, "titleAlign": "left", "titleBaseline": "middle", "titleFontSize": 13, "titleFontWeight": "bold", "titleColor": "#000000", "titleAngle": 0}}}}
 ],
 "resolve": {"scale": {"x": "independent"}, "axis": {"x": "independent"}}},
{"width": 160, "height": 128, "data": {"name": "H"},
 "transform": [{"calculate": "datum.g + '_' + datum.l", "as": "slot"}, {"calculate": "round(datum.v / 0.3)", "as": "vb"},
  {"window": [{"op": "row_number", "as": "rk"}, {"op": "count", "as": "n"}], "groupby": ["slot", "vb"], "sort": [{"field": "k", "order": "descending"}, {"field": "v", "order": "ascending"}], "frame": [null, null]},
  {"calculate": "(datum.rk - (datum.n + 1) / 2) * min(3.4, 14 / max(datum.n - 1, 1))", "as": "off"}],
 "layer": [
  {"mark": {"type": "point", "filled": true, "opacity": 1},
   "encoding": {
    "x": {"field": "slot", "type": "nominal", "scale": {"type": "band", "domain": ["nd_None","nd_Low","nd_Inter.","nd_High","gap","d_None","d_Low","d_Inter.","d_High"], "paddingInner": 0, "paddingOuter": 0.625},
     "axis": {"labelExpr": "datum.value == 'gap' ? '' : split(datum.value, '_')[1]", "labelAngle": -45, "labelFontSize": 9, "labelPadding": 2, "grid": true, "gridColor": {"condition": {"test": "datum.value == 'gap'", "value": "transparent"}, "value": "#e5ecf2"}, "bandPosition": 0.5, "tickSize": 4, "title": null}},
    "xOffset": {"field": "off", "type": "quantitative", "scale": {"domain": [-8, 8], "range": [0, 16]}},
    "y": {"field": "v", "type": "quantitative", "scale": {"domain": [-0.8, 15.6], "nice": false, "zero": false},
     "axis": {"values": [0, 5, 10, 15], "format": "d", "title": "FA  Aβ  conc. (µg/g)", "titleX": -26, "titleY": 69, "titleAngle": -90, "titleAlign": "center", "titleBaseline": "middle", "titleFontSize": 9, "titleFontWeight": "normal", "labelFontSize": 9, "tickSize": 4, "labelPadding": 2, "grid": false}},
    "shape": {"field": "k", "type": "nominal", "scale": {"domain": ["t", "c"], "range": ["triangle-up", "circle"]}, "legend": null},
    "color": {"field": "k", "type": "nominal", "scale": {"domain": ["t", "c"], "range": ["#345f86", "#9c3446"]}, "legend": null},
    "size": {"field": "k", "type": "ordinal", "scale": {"domain": ["t", "c"], "range": [18, 8]}, "legend": null}}},
  {"mark": {"type": "point", "opacity": 0},
   "encoding": {"x": {"field": "g", "type": "nominal", "scale": {"type": "point", "domain": ["nd", "d"], "padding": 0.5},
    "axis": {"orient": "bottom", "labelExpr": "datum.value == 'nd' ? 'No dementia' : 'Dementia'", "labelAngle": 0, "labelBaseline": "middle", "labelPadding": 35, "labelFontSize": 9, "domain": false, "ticks": false, "grid": false,
     "title": "H", "titleX": -34, "titleY": -137, "titleAlign": "left", "titleBaseline": "middle", "titleFontSize": 13, "titleFontWeight": "bold", "titleColor": "#000000", "titleAngle": 0}}}}
 ],
 "resolve": {"scale": {"x": "independent"}, "axis": {"x": "independent"}}},
{"width": 165, "height": 128, "data": {"name": "I"},
 "transform": [{"calculate": "datum.g + '_' + datum.l", "as": "slot"}, {"calculate": "round(datum.v / 0.3)", "as": "vb"},
  {"window": [{"op": "row_number", "as": "rk"}, {"op": "count", "as": "n"}], "groupby": ["slot", "vb"], "sort": [{"field": "k", "order": "descending"}, {"field": "v", "order": "ascending"}], "frame": [null, null]},
  {"calculate": "(datum.rk - (datum.n + 1) / 2) * min(3.4, 14 / max(datum.n - 1, 1))", "as": "off"}],
 "layer": [
  {"mark": {"type": "point", "filled": true, "opacity": 1},
   "encoding": {
    "x": {"field": "slot", "type": "nominal", "scale": {"type": "band", "domain": ["nd_None","nd_Low","nd_Inter.","nd_High","gap","d_None","d_Low","d_Inter.","d_High"], "paddingInner": 0, "paddingOuter": 0.625},
     "axis": {"labelExpr": "datum.value == 'gap' ? '' : split(datum.value, '_')[1]", "labelAngle": -45, "labelFontSize": 9, "labelPadding": 2, "grid": true, "gridColor": {"condition": {"test": "datum.value == 'gap'", "value": "transparent"}, "value": "#e5ecf2"}, "bandPosition": 0.5, "tickSize": 4, "title": null}},
    "xOffset": {"field": "off", "type": "quantitative", "scale": {"domain": [-8, 8], "range": [0, 16]}},
    "y": {"field": "v", "type": "quantitative", "scale": {"domain": [-0.8, 15.6], "nice": false, "zero": false},
     "axis": {"values": [0, 5, 10, 15], "format": "d", "title": "FA  Aβ  conc. (µg/g)", "titleX": -24, "titleY": 69, "titleAngle": -90, "titleAlign": "center", "titleBaseline": "middle", "titleFontSize": 9, "titleFontWeight": "normal", "labelFontSize": 9, "tickSize": 4, "labelPadding": 2, "grid": false}},
    "shape": {"field": "k", "type": "nominal", "scale": {"domain": ["t", "c"], "range": ["triangle-up", "circle"]}, "legend": null},
    "color": {"field": "k", "type": "nominal", "scale": {"domain": ["t", "c"], "range": ["#345f86", "#9c3446"]}, "legend": null},
    "size": {"field": "k", "type": "ordinal", "scale": {"domain": ["t", "c"], "range": [18, 8]}, "legend": null}}},
  {"mark": {"type": "point", "opacity": 0},
   "encoding": {"x": {"field": "g", "type": "nominal", "scale": {"type": "point", "domain": ["nd", "d"], "padding": 0.5},
    "axis": {"orient": "bottom", "labelExpr": "datum.value == 'nd' ? 'No dementia' : 'Dementia'", "labelAngle": 0, "labelBaseline": "middle", "labelPadding": 35, "labelFontSize": 9, "domain": false, "ticks": false, "grid": false,
     "title": "I", "titleX": -34, "titleY": -137, "titleAlign": "left", "titleBaseline": "middle", "titleFontSize": 13, "titleFontWeight": "bold", "titleColor": "#000000", "titleAngle": 0}}}}
 ],
 "resolve": {"scale": {"x": "independent"}, "axis": {"x": "independent"}}}
]}
]
}
